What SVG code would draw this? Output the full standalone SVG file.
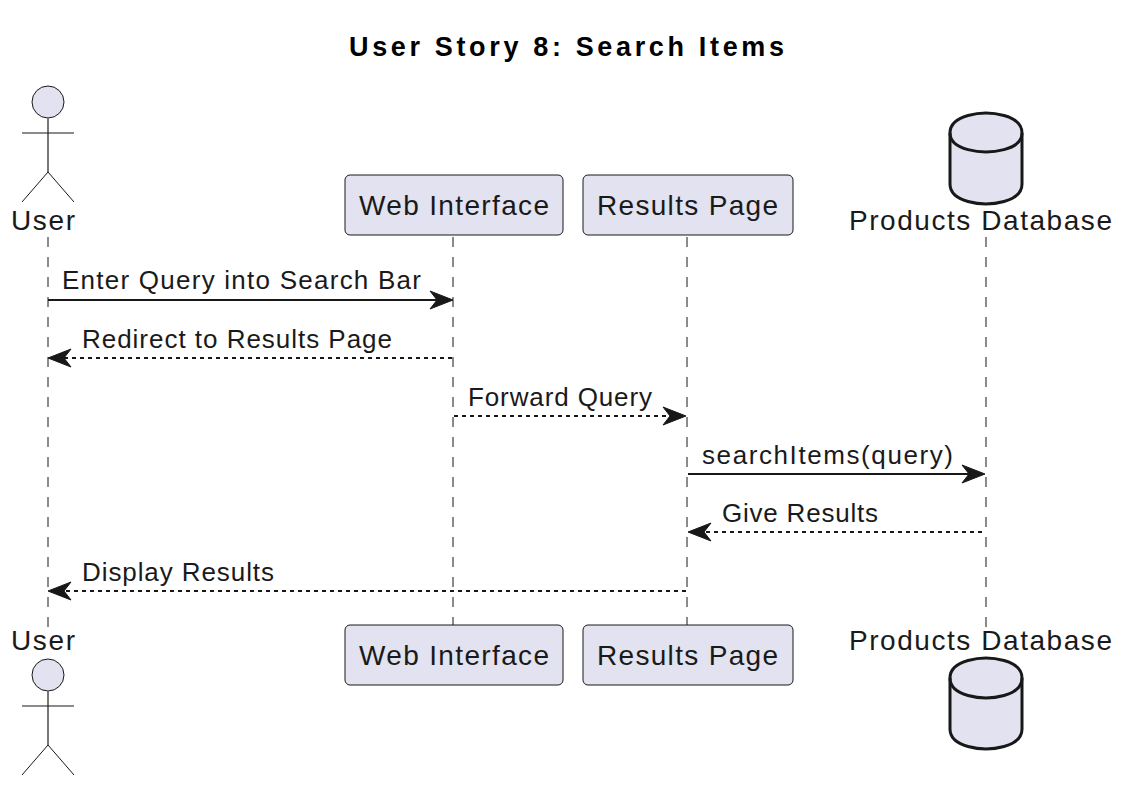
<svg xmlns="http://www.w3.org/2000/svg" width="1126" height="788" viewBox="0 0 1126 788">
<style>
text{font-family:"Liberation Sans",Arial,sans-serif;fill:#1a1a1a}
.t{font-size:27px;font-weight:700;fill:#000}
.n{font-size:28px}
.m{font-size:26px}
.life{stroke:#8a8a8a;stroke-width:2;stroke-dasharray:10 10;fill:none}
.box{fill:#e2e2f0;stroke:#181818;stroke-width:1}
.stick{fill:none;stroke:#181818;stroke-width:1}
.body{fill:none;stroke:#777;stroke-width:2}
.db{fill:#e2e2f0;stroke:#181818;stroke-width:3}
.arc{fill:none;stroke:#181818;stroke-width:3}
.sol{stroke:#181818;stroke-width:2;fill:none}
.dash{stroke:#181818;stroke-width:2;stroke-dasharray:4 4;fill:none}
.head{fill:#181818;stroke:#181818;stroke-width:1}
</style>
<rect width="1126" height="788" fill="#fff"/>
<text id="title" class="t" x="349" y="55.5" textLength="435" lengthAdjust="spacing">User Story 8: Search Items</text>
<g id="lifelines">
<path class="life" d="M48 237V627"/><path class="life" d="M453 237V625"/><path class="life" d="M687 237V625"/><path class="life" d="M986 237V627"/>
</g>
<g id="user-top">
<circle class="box" cx="48" cy="102" r="16"/>
<path class="body" d="M48 118V172"/>
<path class="stick" d="M22 133H74M22 202L48 172L74 202"/>
<text class="n" x="11" y="230" textLength="64" lengthAdjust="spacing">User</text>
</g>
<g id="web-top">
<rect class="box" x="345" y="175" width="218" height="60" rx="5"/>
<text class="n" x="359" y="215" textLength="190" lengthAdjust="spacing">Web Interface</text>
</g>
<g id="results-top">
<rect class="box" x="583" y="175" width="210" height="60" rx="5"/>
<text class="n" x="597" y="215" textLength="181" lengthAdjust="spacing">Results Page</text>
</g>
<g id="db-top">
<path class="db" d="M950 133C950 113 986 113 986 113C986 113 1022 113 1022 133V184C1022 204 986 204 986 204C986 204 950 204 950 184Z"/>
<path class="arc" d="M950 133C950 152 986 152 986 152C986 152 1022 152 1022 133"/>
<text class="n" x="849" y="230" textLength="263" lengthAdjust="spacing">Products Database</text>
</g>
<g id="user-bottom">
<text class="n" x="11" y="650" textLength="64" lengthAdjust="spacing">User</text>
<circle class="box" cx="48" cy="675" r="16"/>
<path class="body" d="M48 691V745"/>
<path class="stick" d="M22 706H74M22 775L48 745L74 775"/>
</g>
<g id="web-bottom">
<rect class="box" x="345" y="625" width="218" height="60" rx="5"/>
<text class="n" x="359" y="665" textLength="190" lengthAdjust="spacing">Web Interface</text>
</g>
<g id="results-bottom">
<rect class="box" x="583" y="625" width="210" height="60" rx="5"/>
<text class="n" x="597" y="665" textLength="181" lengthAdjust="spacing">Results Page</text>
</g>
<g id="db-bottom">
<text class="n" x="849" y="650" textLength="263" lengthAdjust="spacing">Products Database</text>
<path class="db" d="M950 678C950 658 986 658 986 658C986 658 1022 658 1022 678V729C1022 749 986 749 986 749C986 749 950 749 950 729Z"/>
<path class="arc" d="M950 678C950 698 986 698 986 698C986 698 1022 698 1022 678"/>
</g>
<g id="connectors">
<path class="sol" d="M48 300H440"/><path class="head" d="M453 300L430 291L437 300L430 309Z"/>
<path class="dash" d="M452 358H62"/><path class="head" d="M48 358L71 349L64 358L71 367Z"/>
<path class="dash" d="M454 416H674"/><path class="head" d="M686 416L663 407L670 416L663 425Z"/>
<path class="sol" d="M688 474H972"/><path class="head" d="M985 474L962 465L969 474L962 483Z"/>
<path class="dash" d="M982 532H702"/><path class="head" d="M688 532L711 523L704 532L711 541Z"/>
<path class="dash" d="M686 591H62"/><path class="head" d="M48 591L71 582L64 591L71 600Z"/>
</g>
<g id="labels">
<text class="m" x="62" y="289" textLength="359" lengthAdjust="spacing">Enter Query into Search Bar</text>
<text class="m" x="82" y="348" textLength="310" lengthAdjust="spacing">Redirect to Results Page</text>
<text class="m" x="468" y="406" textLength="184" lengthAdjust="spacing">Forward Query</text>
<text class="m" x="702" y="464" textLength="251" lengthAdjust="spacing">searchItems(query)</text>
<text class="m" x="722" y="522" textLength="156" lengthAdjust="spacing">Give Results</text>
<text class="m" x="82" y="581" textLength="192" lengthAdjust="spacing">Display Results</text>
</g>
</svg>
